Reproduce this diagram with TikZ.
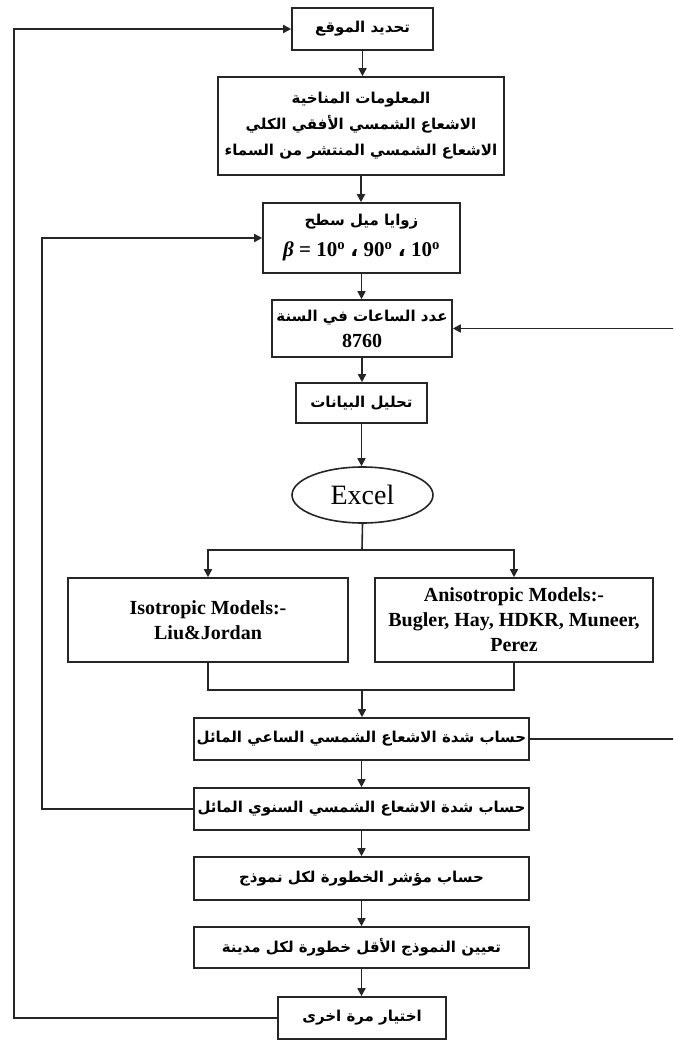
\documentclass[tikz,border=0pt]{standalone}
\usepackage{fontspec}
\setmainfont{Liberation Serif}
\newfontfamily\arabicfont[Script=Arabic]{DejaVu Sans}
\TeXXeTstate=1
\usetikzlibrary{arrows.meta,shapes.geometric}
\newcommand{\AR}[1]{{\arabicfont\bfseries\beginR #1\endR}}
\tikzset{
  boxnode/.style={draw=black!85, line width=1.6pt, rectangle, inner sep=0pt, align=center,
    font=\fontsize{15}{26}\selectfont},
  ennode/.style={boxnode, font=\fontsize{20}{25}\selectfont\bfseries},
  conn/.style={draw=black!85, line width=1.6pt},
  arr/.style={conn, -{Triangle[length=8pt,width=8pt]}}
}
\begin{document}
\begin{tikzpicture}[x=1pt,y=-1pt]
\useasboundingbox (0,0) rectangle (673,1041);
\fill[white] (0,0) rectangle (673,1041);
\clip (0,0) rectangle (673,1041);

\node[boxnode, minimum width=141pt, minimum height=42pt] (b1) at (362.5,29) {\AR{تحديد الموقع}};
\node[boxnode, minimum width=286pt, minimum height=98pt] (b2) at (361,126)
  {\AR{المعلومات المناخية}\\ \AR{الاشعاع الشمسي الأفقي الكلي}\\ \AR{الاشعاع الشمسي المنتشر من السماء}};
\node[boxnode, minimum width=197pt, minimum height=70pt] (b3) at (361.5,238)
  {\AR{زوايا ميل سطح}\\[5pt] {\fontsize{21}{22}\selectfont\bfseries\itshape β\upshape{} = 10\textsuperscript{o} {\arabicfont ،} 90\textsuperscript{o} {\arabicfont ،} 10\textsuperscript{o}}};
\node[boxnode, minimum width=180pt, minimum height=57pt] (b4) at (362,328.5)
  {\AR{عدد الساعات في السنة}\\ {\fontsize{20}{20}\selectfont\bfseries 8760}};
\node[boxnode, minimum width=131pt, minimum height=40pt] (b5) at (361.5,403) {\AR{تحليل البيانات}};
\node[draw=black!85, line width=1.6pt, ellipse, inner sep=0pt, minimum width=141pt, minimum height=56pt,
  font=\fontsize{28}{30}\selectfont] (ex) at (362.5,495) {Excel};
\node[ennode, minimum width=280pt, minimum height=84pt] (iso) at (208,620) {Isotropic Models:-\\ Liu\&Jordan};
\node[ennode, minimum width=278pt, minimum height=84pt] (aniso) at (514,620) {Anisotropic Models:-\\ Bugler, Hay, HDKR, Muneer,\\ Perez};
\node[boxnode, minimum width=335pt, minimum height=42pt] (b6) at (361.5,739) {\AR{حساب شدة الاشعاع الشمسي الساعي المائل}};
\node[boxnode, minimum width=335pt, minimum height=42pt] (b7) at (361.5,809) {\AR{حساب شدة الاشعاع الشمسي السنوي المائل}};
\node[boxnode, minimum width=335pt, minimum height=43pt] (b8) at (361.5,878.5) {\AR{حساب مؤشر الخطورة لكل نموذج}};
\node[boxnode, minimum width=335pt, minimum height=41pt] (b9) at (361.5,947.5) {\AR{تعيين النموذج الأقل خطورة لكل مدينة}};
\node[boxnode, minimum width=168pt, minimum height=42pt] (b10) at (362,1018) {\AR{اختيار مرة اخرى}};

\coordinate (br) at (362,550);
\coordinate (mg) at (362,690);
\coordinate (L1) at (14,0);
\coordinate (L2) at (42,0);
\coordinate (R) at (680,0);

\draw[arr] (b1.south) -- (b1.south |- b2.north);
\draw[arr] (b2.south) -- (b2.south |- b3.north);
\draw[arr] (b3.south) -- (b3.south |- b4.north);
\draw[arr] (b4.south) -- (b4.south |- b5.north);
\draw[arr] (b5.south) -- (b5.south |- ex.north);
\draw[conn] (ex.south) -- (br);
\draw[arr] (br) -| (iso.north);
\draw[arr] (br) -| (aniso.north);
\draw[conn] (iso.south) |- (mg) -| (aniso.south);
\draw[arr] (mg) -- (mg |- b6.north);
\draw[arr] (b6.south) -- (b6.south |- b7.north);
\draw[arr] (b7.south) -- (b7.south |- b8.north);
\draw[arr] (b8.south) -- (b8.south |- b9.north);
\draw[arr] (b9.south) -- (b9.south |- b10.north);

\draw[arr] (b10.west) -- (b10.west -| L1) |- (b1.west);
\draw[arr] (b7.west) -- (b7.west -| L2) |- (b3.west);
\draw[arr] (b6.east) -- (b6.east -| R) |- (b4.east);
\end{tikzpicture}
\end{document}
